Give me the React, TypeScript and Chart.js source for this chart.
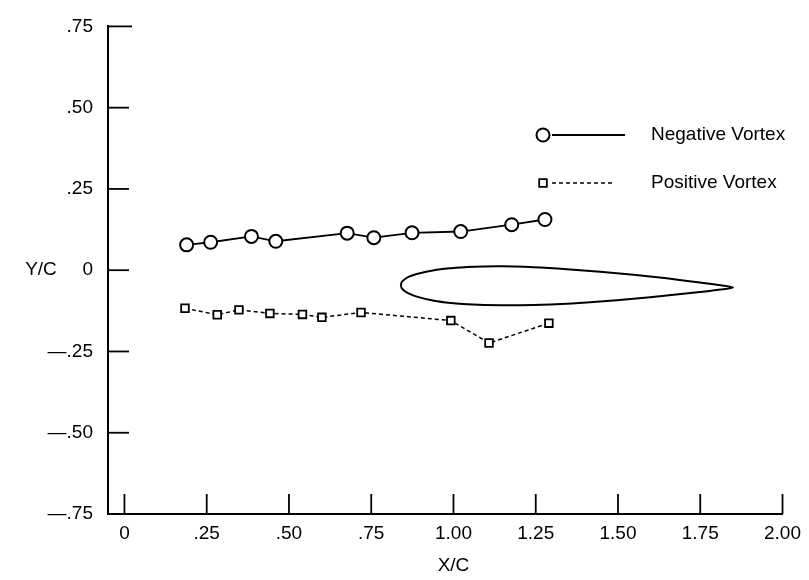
import { useEffect, useRef } from "react";
import { Chart, registerables } from "chart.js";

Chart.register(...registerables);

// ---- Data ----
const SERIES_NAMES = ["Negative Vortex", "Positive Vortex"];

const NEG_X = [0.189, 0.262, 0.386, 0.46, 0.677, 0.758, 0.874, 1.022, 1.177, 1.278];
const NEG_Y = [0.078, 0.086, 0.104, 0.089, 0.114, 0.1, 0.115, 0.119, 0.14, 0.156];

const POS_X = [0.184, 0.282, 0.348, 0.442, 0.541, 0.6, 0.719, 0.992, 1.108, 1.29];
const POS_Y = [-0.117, -0.137, -0.122, -0.133, -0.136, -0.145, -0.13, -0.155, -0.224, -0.163];

// Airfoil outline: upper surface LE -> TE, then lower surface TE -> LE
const AIRFOIL_X = [
  0.84, 0.8425, 0.845, 0.853, 0.865, 0.891, 0.941, 0.992, 1.042, 1.143, 1.244, 1.345, 1.446, 1.547, 1.648, 1.749, 1.8, 1.85,
  1.8, 1.749, 1.648, 1.547, 1.446, 1.345, 1.244, 1.143, 1.042, 0.992, 0.941, 0.891, 0.865, 0.853, 0.845, 0.8425, 0.84,
];
const AIRFOIL_Y = [
  -0.046, -0.037, -0.034, -0.027, -0.02, -0.011, 0.0, 0.006, 0.01, 0.012, 0.009, 0.003, -0.005, -0.014, -0.025, -0.038, -0.045, -0.053,
  -0.061, -0.067, -0.078, -0.088, -0.096, -0.103, -0.107, -0.108, -0.105, -0.101, -0.094, -0.082, -0.072, -0.065, -0.058, -0.055, -0.046,
];

const X_TICKS = [0, 0.25, 0.5, 0.75, 1.0, 1.25, 1.5, 1.75, 2.0];
const X_TICK_LABELS = ["0", ".25", ".50", ".75", "1.00", "1.25", "1.50", "1.75", "2.00"];
const Y_TICKS = [-0.75, -0.5, -0.25, 0, 0.25, 0.5, 0.75];
const Y_TICK_LABELS = ["\u2014.75", "\u2014.50", "\u2014.25", "0", ".25", ".50", ".75"];

const X_TITLE = "X/C";
const Y_TITLE = "Y/C";

const FONT_FAMILY = "'Liberation Sans', Arial, sans-serif";
const FONT_SIZE = 19;

function labelFor(values: number[], labels: string[], v: number) {
  const i = values.findIndex((t) => Math.abs(t - v) < 1e-9);
  return i >= 0 ? labels[i] : "";
}

const overlayPlugin = {
  id: "overlay",
  afterDraw(chart: any) {
    const { ctx, chartArea, scales } = chart;
    const xs = scales.x;
    const ys = scales.y;
    ctx.save();
    ctx.strokeStyle = "#000";
    ctx.lineWidth = 1.8;
    // inward ticks
    X_TICKS.forEach((v) => {
      const px = xs.getPixelForValue(v);
      ctx.beginPath();
      ctx.moveTo(px, chartArea.bottom);
      ctx.lineTo(px, chartArea.bottom - 20);
      ctx.stroke();
    });
    Y_TICKS.forEach((v) => {
      const py = ys.getPixelForValue(v);
      ctx.beginPath();
      ctx.moveTo(chartArea.left, py);
      ctx.lineTo(chartArea.left + (v === 0.75 ? 24 : 21), py);
      ctx.stroke();
    });

    // axis titles
    ctx.fillStyle = "#000";
    ctx.font = `${FONT_SIZE}px ${FONT_FAMILY}`;
    ctx.textAlign = "center";
    ctx.textBaseline = "middle";
    ctx.fillText(Y_TITLE, 41, ys.getPixelForValue(0));
    ctx.fillText(X_TITLE, xs.getPixelForValue(1.0), 566);

    // legend
    const rows = [
      { ds: chart.data.datasets[1], y: 135, lineEnd: 625 },
      { ds: chart.data.datasets[2], y: 183, lineEnd: 612 },
    ];
    rows.forEach((r, i) => {
      const ds = r.ds;
      ctx.save();
      ctx.strokeStyle = "#000";
      ctx.lineWidth = ds.borderWidth;
      ctx.setLineDash(ds.borderDash || []);
      ctx.beginPath();
      ctx.moveTo(552, r.y);
      ctx.lineTo(r.lineEnd, r.y);
      ctx.stroke();
      ctx.setLineDash([]);
      ctx.fillStyle = "#fff";
      ctx.lineWidth = ds.pointBorderWidth;
      const radius = ds.pointRadius;
      ctx.beginPath();
      if (ds.pointStyle === "circle") {
        ctx.arc(543, r.y, radius, 0, Math.PI * 2);
      } else {
        const s = radius * Math.SQRT1_2;
        ctx.rect(543 - s, r.y - s, 2 * s, 2 * s);
      }
      ctx.fill();
      ctx.stroke();
      ctx.restore();
      ctx.fillStyle = "#000";
      ctx.font = `${FONT_SIZE}px ${FONT_FAMILY}`;
      ctx.textAlign = "left";
      ctx.textBaseline = "middle";
      ctx.fillText(SERIES_NAMES[i], 651, r.y);
    });
    ctx.restore();
  },
};

export default function App() {
  const ref = useRef<HTMLCanvasElement | null>(null);
  useEffect(() => {
    document.body.style.margin = "0";
    const canvas = ref.current;
    if (!canvas) return;
    const chart = new Chart(canvas, {
      type: "scatter",
      data: {
        datasets: [
          {
            label: "Airfoil",
            data: AIRFOIL_X.map((x, i) => ({ x, y: AIRFOIL_Y[i] })),
            showLine: true,
            borderColor: "#000",
            borderWidth: 2,
            pointRadius: 0,
            tension: 0.3,
            fill: false,
          },
          {
            label: SERIES_NAMES[0],
            data: NEG_X.map((x, i) => ({ x, y: NEG_Y[i] })),
            showLine: true,
            borderColor: "#000",
            borderWidth: 1.8,
            pointStyle: "circle",
            pointRadius: 6.5,
            pointBorderWidth: 2,
            pointBackgroundColor: "#fff",
            pointBorderColor: "#000",
            backgroundColor: "#fff",
          },
          {
            label: SERIES_NAMES[1],
            data: POS_X.map((x, i) => ({ x, y: POS_Y[i] })),
            showLine: true,
            borderColor: "#000",
            borderWidth: 1.5,
            borderDash: [4, 3],
            pointStyle: "rect",
            pointRadius: 5.4,
            pointBorderWidth: 1.8,
            pointBackgroundColor: "#fff",
            pointBorderColor: "#000",
            backgroundColor: "#fff",
          },
        ],
      } as any,
      options: {
        animation: false,
        responsive: false,
        maintainAspectRatio: false,
        layout: { padding: { top: 23, right: 24, left: 0, bottom: 0 } },
        plugins: {
          legend: { display: false },
          tooltip: { enabled: false },
          title: { display: false },
        },
        scales: {
          x: {
            type: "linear",
            min: -0.05,
            max: 2.0,
            afterBuildTicks: (s: any) => {
              s.ticks = X_TICKS.map((v) => ({ value: v }));
            },
            afterFit: (s: any) => {
              s.height = 66;
            },
            ticks: {
              autoSkip: false,
              maxRotation: 0,
              padding: 8,
              color: "#000",
              font: { family: FONT_FAMILY, size: FONT_SIZE },
              callback: (v: any) => labelFor(X_TICKS, X_TICK_LABELS, Number(v)),
            },
            grid: { display: true, drawOnChartArea: false, drawTicks: false, color: "#000" },
            border: { display: true, color: "#000", width: 2 },
          },
          y: {
            type: "linear",
            min: -0.75,
            max: 0.75,
            afterBuildTicks: (s: any) => {
              s.ticks = Y_TICKS.map((v) => ({ value: v }));
            },
            afterFit: (s: any) => {
              s.width = 108;
            },
            ticks: {
              autoSkip: false,
              padding: 15,
              color: "#000",
              font: { family: FONT_FAMILY, size: FONT_SIZE },
              callback: (v: any) => labelFor(Y_TICKS, Y_TICK_LABELS, Number(v)),
            },
            grid: { display: true, drawOnChartArea: false, drawTicks: false, color: "#000" },
            border: { display: true, color: "#000", width: 2 },
          },
        },
      } as any,
      plugins: [overlayPlugin],
    });
    return () => chart.destroy();
  }, []);
  return (
    <div style={{ width: 809, height: 580, background: "#fff" }}>
      <canvas ref={ref} width={809} height={580} style={{ display: "block" }} />
    </div>
  );
}
